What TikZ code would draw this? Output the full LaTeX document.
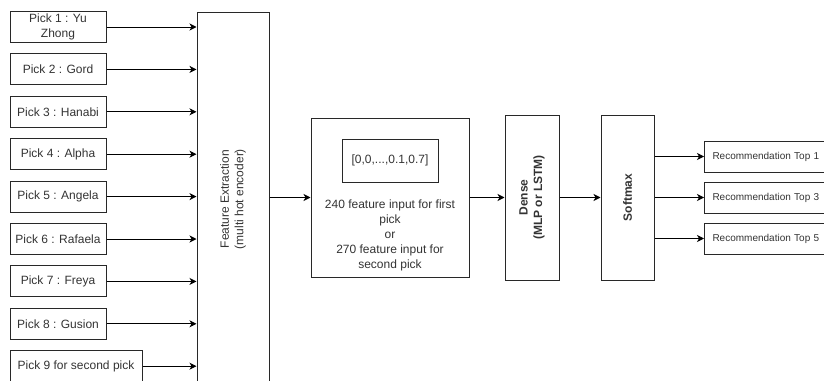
\documentclass[tikz,border=0pt]{standalone}
\usepackage{fontspec}
\setmainfont{Liberation Sans}
\usetikzlibrary{positioning,arrows.meta,calc}
\definecolor{boxline}{RGB}{40,40,40}
\definecolor{txtgray}{RGB}{51,51,51}

\begin{document}
\begin{tikzpicture}[x=1pt,y=-1pt,
box/.style={draw=boxline,line width=1pt,align=center,inner sep=2pt,text=txtgray,
font=\fontsize{12}{14.5}\selectfont},
pick/.style={box,minimum width=96pt,minimum height=31pt},
tall/.style={box,minimum height=165pt},
reco/.style={box,anchor=west,text width=110pt,align=left,inner xsep=8pt,
minimum height=31pt,font=\fontsize{10}{12}\selectfont},
lbl/.style={rotate=90,align=center,text=txtgray,font=\fontsize{12}{14.5}\selectfont},
arr/.style={-{Stealth[length=7pt,width=7pt,inset=2pt]},line width=1pt}]
\clip (0,0) rectangle (824,380);
% inputs
\foreach \i/\name in {1/{Pick 1 : Yu\\Zhong},2/{Pick 2 : Gord},3/{Pick 3 : Hanabi},
4/{Pick 4 : Alpha},5/{Pick 5 : Angela},6/{Pick 6 : Rafaela},7/{Pick 7 : Freya},
8/{Pick 8 : Gusion}}
\node[pick] (p\i) at (58,{27+42.4*(\i-1)}) {\name};
\node[pick,minimum width=132pt] (p9) at (76,366.2) {Pick 9 for second pick};
% encoder
\node[box,minimum width=72pt,minimum height=380pt] (feat) at (233,202) {};
\node[lbl] (featlbl) at (233,199) {Feature Extraction\\(multi hot encoder)};
\foreach \i in {1,...,9} \draw[arr] (p\i.east) -- (p\i.east -| feat.west);
% feature vector
\node[box,minimum width=158pt,minimum height=159pt] (mid) at (390,197.5) {};
\node[box,minimum width=96pt,minimum height=43pt] (vec) at (390,160.5) {[0,0,...,0.1,0.7]};
\node[align=center,text=txtgray,font=\fontsize{12}{15}\selectfont] (midtxt) at (390,235.5)
{240 feature input for first\\pick\\or\\270 feature input for\\second pick};
% model
\node[tall,minimum width=54pt,right=35pt of mid] (dense) {};
\node[lbl,font=\fontsize{12}{14.5}\selectfont\bfseries] (denselbl) at (dense) {Dense\\(MLP or LSTM)};
\node[tall,minimum width=53pt,right=41pt of dense] (soft) {};
\node[lbl,font=\fontsize{12}{14.5}\selectfont\bfseries] (softlbl) at (soft) {Softmax};
% outputs
\node[reco] (r1) at (704,156.5) {Recommendation Top 1};
\node[reco] (r3) at (704,197.5) {Recommendation Top 3};
\node[reco] (r5) at (704,238.5) {Recommendation Top 5};
\draw[arr] (mid.west -| feat.east) -- (mid.west);
\draw[arr] (mid) -- (dense);
\draw[arr] (dense) -- (soft);
\foreach \r in {r1,r3,r5} \draw[arr] (soft.east |- \r.west) -- (\r.west);
\end{tikzpicture}
\end{document}
